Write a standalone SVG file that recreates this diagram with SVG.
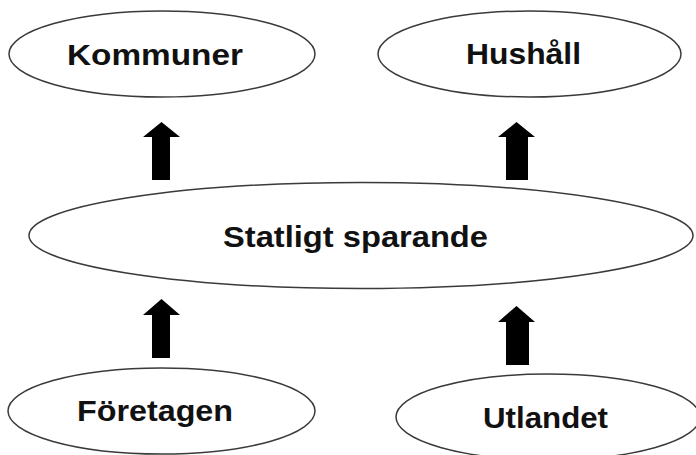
<svg xmlns="http://www.w3.org/2000/svg" width="696" height="455" viewBox="0 0 696 455">
<style>
.node ellipse{fill:#ffffff;stroke:#3a3a3a;stroke-width:1.5}
.node text{font-family:"Liberation Sans",Arial,sans-serif;font-weight:bold;font-size:29px;fill:#111111;text-anchor:middle}
.arrow{fill:#000000;stroke:none}
</style>
<rect width="696" height="455" fill="#ffffff"/>
<g id="connectors">
<polygon class="arrow" points="161.5,122 180,137 170,137 170,180 152,180 152,137 143,137"/>
<polygon class="arrow" points="516.5,122 535,137 528,137 528,180 506,180 506,137 498,137"/>
<polygon class="arrow" points="161.5,299 180,315 170,315 170,358 152,358 152,315 143,315"/>
<polygon class="arrow" points="516.5,306 535,322 529,322 529,365 506,365 506,322 498,322"/>
</g>
<g id="kommuner" class="node">
<ellipse cx="162" cy="54" rx="153" ry="43"/>
<text x="155" y="65" textLength="176" lengthAdjust="spacingAndGlyphs">Kommuner</text>
</g>
<g id="hushall" class="node">
<ellipse cx="529.5" cy="54" rx="151.5" ry="43"/>
<text x="523.5" y="64" textLength="115" lengthAdjust="spacingAndGlyphs">Hushåll</text>
</g>
<g id="statligt" class="node">
<ellipse cx="361" cy="235.5" rx="332" ry="53"/>
<text x="355.5" y="247" textLength="265" lengthAdjust="spacingAndGlyphs">Statligt sparande</text>
</g>
<g id="foretagen" class="node">
<ellipse cx="161.5" cy="411" rx="153.5" ry="43"/>
<text x="155" y="421" textLength="156" lengthAdjust="spacingAndGlyphs">Företagen</text>
</g>
<g id="utlandet" class="node">
<ellipse cx="548" cy="417" rx="152" ry="43"/>
<text x="545.5" y="428" textLength="125" lengthAdjust="spacingAndGlyphs">Utlandet</text>
</g>
</svg>
